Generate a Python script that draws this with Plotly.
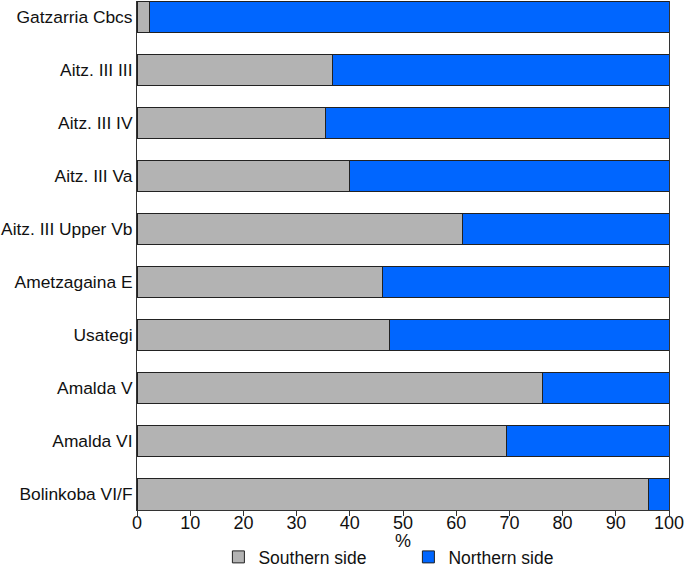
import plotly.graph_objects as go

categories = ["Gatzarria Cbcs", "Aitz. III III", "Aitz. III IV", "Aitz. III Va",
              "Aitz. III Upper Vb", "Ametzagaina E", "Usategi", "Amalda V",
              "Amalda VI", "Bolinkoba VI/F"]
southern = [2.4, 36.8, 35.5, 40.0, 61.1, 46.2, 47.4, 76.3, 69.4, 96.1]
northern = [round(100 - v, 1) for v in southern]
x_ticks = [0, 10, 20, 30, 40, 50, 60, 70, 80, 90, 100]
x_title = "%"

font_family = "Liberation Sans, Arial, sans-serif"
line = dict(color="#222222", width=1)

fig = go.Figure()
fig.add_trace(go.Bar(y=categories, x=southern, orientation="h", name="Southern side",
                     marker=dict(color="#b3b3b3", line=line)))
fig.add_trace(go.Bar(y=categories, x=northern, orientation="h", name="Northern side",
                     marker=dict(color="#0066ff", line=line)))

fig.update_layout(
    width=685, height=565,
    barmode="stack", bargap=0.4,
    plot_bgcolor="white", paper_bgcolor="white",
    margin=dict(l=137, r=16, t=1, b=55, autoexpand=False),
    font=dict(family=font_family, size=18, color="#111111"),
    showlegend=True,
    legend=dict(orientation="h", traceorder="normal", x=0.153, xanchor="left",
                y=-0.057, yanchor="top",
                font=dict(size=17.5), entrywidth=145, entrywidthmode="pixels",
                itemwidth=30, tracegroupgap=0),
    annotations=[dict(text=x_title, xref="paper", yref="paper", x=0.5, y=-0.061,
                      xanchor="center", yanchor="middle", showarrow=False,
                      font=dict(size=18))],
)
fig.update_xaxes(range=[0, 100], tickvals=x_ticks, ticks="outside", ticklen=5,
                 tickcolor="#333", showline=True, linecolor="#333", linewidth=1,
                 showgrid=False, zeroline=False, automargin=False,
                 ticklabelstandoff=-9, tickfont=dict(size=18))
fig.update_yaxes(categoryorder="array", categoryarray=categories, autorange=False,
                 range=[9.3, -0.3], showline=True, mirror=True, linecolor="#333",
                 linewidth=1, showgrid=False, ticks="", ticklabelstandoff=0,
                 automargin=False, tickfont=dict(size=17.4))

fig.write_html("out.html", config={"displayModeBar": False},
               post_script="document.body.style.margin='0';document.body.style.padding='0';")
